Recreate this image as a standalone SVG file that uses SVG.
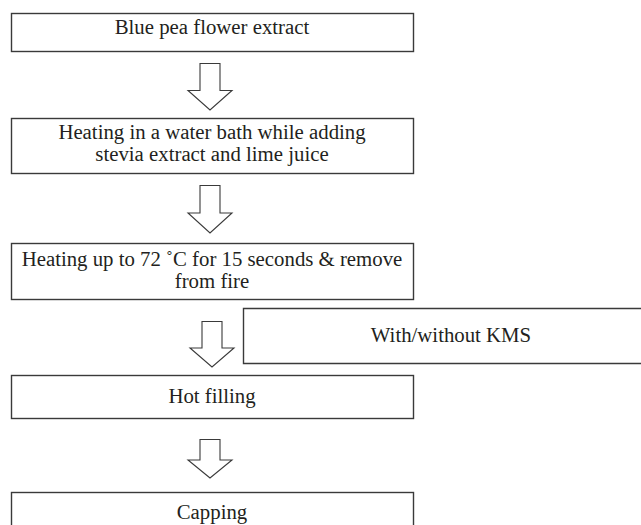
<svg xmlns="http://www.w3.org/2000/svg" width="641" height="525" viewBox="0 0 641 525">
<style>
.box{fill:#fff;stroke:#3a3a3a;stroke-width:1.4}
.arr{fill:#fff;stroke:#3a3a3a;stroke-width:1.1;stroke-linejoin:miter}
text{font-family:"Liberation Serif","Times New Roman",serif;font-size:20.8px;fill:#231f20;text-anchor:middle}
</style>
<rect width="641" height="525" fill="#fff"/>
<g id="n1"><rect class="box" x="11.5" y="13.5" width="402" height="38"/><text x="212" y="34">Blue pea flower extract</text></g>
<g id="n2"><rect class="box" x="11.5" y="118.5" width="402" height="55"/><text x="212" y="139">Heating in a water bath while adding</text><text x="212" y="161">stevia extract and lime juice</text></g>
<g id="n3"><rect class="box" x="11.5" y="243.5" width="402" height="56"/><text x="212" y="266">Heating up to 72 ˚C for 15 seconds &amp; remove</text><text x="212" y="288">from fire</text></g>
<g id="n4"><path class="box" d="M643 308.5H243.5V363.5H643"/><text x="451" y="342">With/without KMS</text></g>
<g id="n5"><rect class="box" x="11.5" y="375.5" width="402" height="43"/><text x="212" y="403">Hot filling</text></g>
<g id="n6"><rect class="box" x="11.5" y="492.5" width="402" height="40"/><text x="212" y="519">Capping</text></g>
<g id="connectors">
<path class="arr" d="M200 63.5H220V90.5H232L210 110L188 90.5H200Z"/>
<path class="arr" d="M200 185.5H220V213H232L210 233L188 213H200Z"/>
<path class="arr" d="M202 321.5H222V348H234L212 367L190 348H202Z"/>
<path class="arr" d="M200 439.5H220V460H232L210 478L188 460H200Z"/>
</g>
</svg>
